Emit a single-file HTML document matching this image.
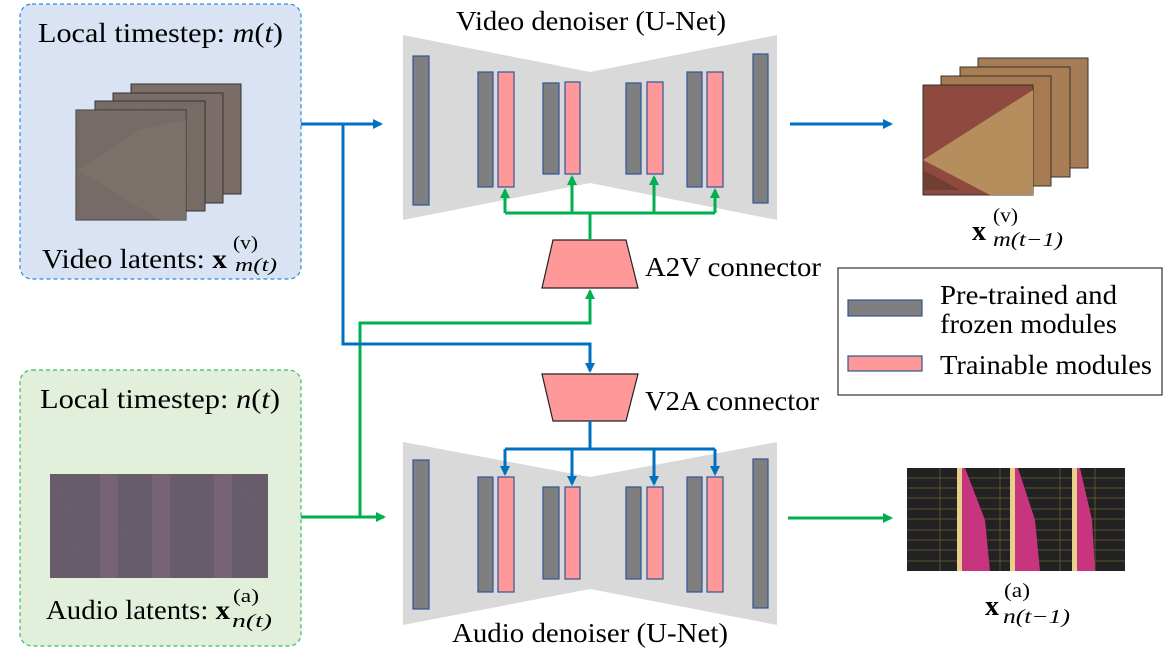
<!DOCTYPE html>
<html><head><meta charset="utf-8"><style>
html,body{margin:0;padding:0;background:#fff;}
svg{display:block;}
text{font-family:"Liberation Serif",serif;fill:#000;}
.m{font-style:italic;}
</style></head><body>
<svg width="1163" height="654" viewBox="0 0 1163 654" xmlns="http://www.w3.org/2000/svg">
<defs>
<filter id="noise" x="0" y="0" width="100%" height="100%">
<feTurbulence type="fractalNoise" baseFrequency="0.9" numOctaves="2" seed="3"/>
<feColorMatrix type="matrix" values="0 0 0 0 0.5  0 0 0 0 0.45  0 0 0 0 0.45  0 0 0 0.35 0"/>
<feComposite in2="SourceGraphic" operator="in"/>
<feBlend in="SourceGraphic" mode="multiply"/>
</filter>
<marker id="ab" markerWidth="10" markerHeight="10" refX="8" refY="5" orient="auto" markerUnits="userSpaceOnUse"><path d="M0,0 L10,5 L0,10 Z" fill="#0070c0"/></marker>
<marker id="ag" markerWidth="10" markerHeight="10" refX="8" refY="5" orient="auto" markerUnits="userSpaceOnUse"><path d="M0,0 L10,5 L0,10 Z" fill="#00b050"/></marker>
</defs>

<!-- Left boxes -->
<rect x="20" y="4" width="281" height="275" rx="12" fill="#dae3f3" stroke="#2e8bd8" stroke-width="1.2" stroke-dasharray="4,3"/>
<rect x="20" y="370" width="281" height="276" rx="12" fill="#e2efda" stroke="#3cba6a" stroke-width="1.2" stroke-dasharray="4,3"/>
<text x="38" y="42" font-size="27" textLength="245" lengthAdjust="spacingAndGlyphs">Local timestep: <tspan class="m">m</tspan>(<tspan class="m">t</tspan>)</text>
<text x="40" y="408" font-size="27" textLength="240" lengthAdjust="spacingAndGlyphs">Local timestep: <tspan class="m">n</tspan>(<tspan class="m">t</tspan>)</text>

<!-- video latent stack -->
<g stroke="#333" stroke-width="1">
<rect x="131" y="84" width="110" height="110" fill="#7b6e68"/>
<rect x="113" y="93" width="110" height="110" fill="#7a6d68"/>
<rect x="95" y="101" width="110" height="110" fill="#786b66"/>
<rect x="76" y="110" width="110" height="110" fill="#7a6e6a"/>
</g>
<polygon points="78,170 140,130 186,120 186,220 160,220" fill="#8a8374" opacity="0.6"/>
<rect x="76" y="110" width="110" height="110" fill="#7a6e6a" filter="url(#noise)" opacity="0.5"/>
<text x="42" y="268" font-size="27" textLength="185" lengthAdjust="spacingAndGlyphs">Video latents: <tspan font-weight="bold">x</tspan></text>
<text x="233" y="249" font-size="19" textLength="25" lengthAdjust="spacingAndGlyphs">(v)</text>
<text x="235" y="271" font-size="19" class="m" textLength="42" lengthAdjust="spacingAndGlyphs">m(t)</text>

<!-- audio latent -->
<rect x="50" y="474" width="218" height="104" fill="#6a5f6c"/>
<rect x="100" y="474" width="18" height="104" fill="#8c6f86" opacity="0.7"/>
<rect x="152" y="474" width="18" height="104" fill="#8c6f86" opacity="0.7"/>
<rect x="214" y="474" width="18" height="104" fill="#8c6f86" opacity="0.7"/>
<rect x="50" y="474" width="218" height="104" fill="#6a5f6c" filter="url(#noise)" opacity="0.4"/>
<text x="46" y="619" font-size="27" textLength="184" lengthAdjust="spacingAndGlyphs">Audio latents: <tspan font-weight="bold">x</tspan></text>
<text x="233" y="602" font-size="19" textLength="26" lengthAdjust="spacingAndGlyphs">(a)</text>
<text x="232" y="627" font-size="19" class="m" textLength="40" lengthAdjust="spacingAndGlyphs">n(t)</text>

<!-- Video U-Net -->
<text x="456" y="30" font-size="27" textLength="270" lengthAdjust="spacingAndGlyphs">Video denoiser (U-Net)</text>
<polygon points="403,35 590,72 777,35 777,220 590,183 403,220" fill="#d9d9d9"/>
<g stroke="#2f5597" stroke-width="1.2">
<rect x="413" y="56" width="16" height="149" fill="#7f7f7f"/>
<rect x="478" y="72" width="15" height="115" fill="#7f7f7f"/>
<rect x="498" y="72" width="16" height="115" fill="#ff9999"/>
<rect x="543" y="83" width="16" height="91" fill="#7f7f7f"/>
<rect x="565" y="82" width="15" height="92" fill="#ff9999"/>
<rect x="626" y="83" width="15" height="91" fill="#7f7f7f"/>
<rect x="647" y="82" width="16" height="92" fill="#ff9999"/>
<rect x="687" y="72" width="15" height="115" fill="#7f7f7f"/>
<rect x="707" y="72" width="16" height="115" fill="#ff9999"/>
<rect x="753" y="54" width="15" height="149" fill="#7f7f7f"/>
</g>
<!-- Audio U-Net -->
<polygon points="403,442 590,477 777,442 777,625 590,589 403,625" fill="#d9d9d9"/>
<g stroke="#2f5597" stroke-width="1.2">
<rect x="413" y="460" width="16" height="149" fill="#7f7f7f"/>
<rect x="478" y="477" width="15" height="115" fill="#7f7f7f"/>
<rect x="498" y="477" width="16" height="115" fill="#ff9999"/>
<rect x="543" y="487" width="16" height="92" fill="#7f7f7f"/>
<rect x="565" y="487" width="15" height="92" fill="#ff9999"/>
<rect x="626" y="487" width="15" height="92" fill="#7f7f7f"/>
<rect x="647" y="487" width="16" height="92" fill="#ff9999"/>
<rect x="687" y="477" width="15" height="115" fill="#7f7f7f"/>
<rect x="707" y="477" width="16" height="115" fill="#ff9999"/>
<rect x="753" y="459" width="15" height="149" fill="#7f7f7f"/>
</g>
<text x="452" y="642" font-size="27" textLength="276" lengthAdjust="spacingAndGlyphs">Audio denoiser (U-Net)</text>

<!-- connectors -->
<polygon points="553,240 626,240 638,288 542,288" fill="#ff9999" stroke="#222" stroke-width="1.2"/>
<text x="645" y="276" font-size="27" textLength="176" lengthAdjust="spacingAndGlyphs">A2V connector</text>
<polygon points="542,374 638,374 626,421 553,421" fill="#ff9999" stroke="#222" stroke-width="1.2"/>
<text x="645" y="410" font-size="27" textLength="174" lengthAdjust="spacingAndGlyphs">V2A connector</text>

<!-- green lines -->
<g stroke="#00b050" stroke-width="3" fill="none">
<path d="M590,240 V213"/>
<path d="M505,213 H715"/>
<path d="M505,213 V190" marker-end="url(#ag)"/>
<path d="M572,213 V177" marker-end="url(#ag)"/>
<path d="M654,213 V177" marker-end="url(#ag)"/>
<path d="M715,213 V190" marker-end="url(#ag)"/>
<path d="M301,517 H384" marker-end="url(#ag)"/>
<path d="M360,517 V323 H590 V291" marker-end="url(#ag)"/>
<path d="M788,518 H891" marker-end="url(#ag)"/>
</g>
<!-- blue lines -->
<g stroke="#0070c0" stroke-width="3" fill="none">
<path d="M301,124 H381" marker-end="url(#ab)"/>
<path d="M343,124 V344 H590 V371" marker-end="url(#ab)"/>
<path d="M590,421 V449"/>
<path d="M505,449 H715"/>
<path d="M505,449 V474" marker-end="url(#ab)"/>
<path d="M572,449 V484" marker-end="url(#ab)"/>
<path d="M654,449 V484" marker-end="url(#ab)"/>
<path d="M715,449 V474" marker-end="url(#ab)"/>
<path d="M790,124 H891" marker-end="url(#ab)"/>
</g>

<!-- video output stack -->
<g stroke="#333" stroke-width="1">
<rect x="978" y="58" width="110" height="110" fill="#a57c55"/>
<rect x="960" y="67" width="110" height="110" fill="#a97e55"/>
<rect x="941" y="76" width="110" height="110" fill="#a67b52"/>
<rect x="923" y="85" width="110" height="110" fill="#8e4a3e"/>
</g>
<polygon points="923,160 1033,90 1033,195 990,195" fill="#b68d5c"/>
<polygon points="923,170 960,190 923,190" fill="#5a3a2a" opacity="0.6"/>
<text x="972" y="240" font-size="28" font-weight="bold">x</text>
<text x="993" y="222" font-size="20" textLength="25" lengthAdjust="spacingAndGlyphs">(v)</text>
<text x="993" y="246" font-size="20" class="m" textLength="70" lengthAdjust="spacingAndGlyphs">m(t−1)</text>

<!-- audio output -->
<rect x="907" y="468" width="218" height="103" fill="#222222"/>
<g stroke="#8a7a3a" stroke-width="0.8" opacity="0.7">
<path d="M907,478 H1125 M907,488 H1125 M907,498 H1125 M907,509 H1125 M907,519 H1125 M907,530 H1125 M907,540 H1125 M907,550 H1125 M907,561 H1125"/>
<path d="M940,468 V571 M1000,468 V571 M1060,468 V571 M1095,468 V571"/>
</g>
<polygon points="957,468 965,468 985,520 990,571 957,571" fill="#c8357f"/>
<polygon points="1010,468 1018,468 1035,520 1040,571 1010,571" fill="#c8357f"/>
<polygon points="1072,468 1080,468 1092,520 1095,571 1072,571" fill="#c8357f"/>
<rect x="957" y="468" width="5" height="103" fill="#e8d08a"/>
<rect x="1010" y="468" width="5" height="103" fill="#e8d08a"/>
<rect x="1072" y="468" width="5" height="103" fill="#e8d08a"/>
<text x="985" y="615" font-size="28" font-weight="bold">x</text>
<text x="1004" y="597" font-size="20" textLength="26" lengthAdjust="spacingAndGlyphs">(a)</text>
<text x="1003" y="623" font-size="20" class="m" textLength="67" lengthAdjust="spacingAndGlyphs">n(t−1)</text>

<!-- legend -->
<rect x="838" y="268" width="324" height="127" fill="#fff" stroke="#333" stroke-width="1.2"/>
<rect x="848" y="300" width="74" height="16" fill="#7f7f7f" stroke="#2f5597" stroke-width="1.2"/>
<rect x="848" y="356" width="74" height="15" fill="#ff9999" stroke="#2f5597" stroke-width="1.2"/>
<text x="940" y="304" font-size="27" textLength="177" lengthAdjust="spacingAndGlyphs">Pre-trained and</text>
<text x="940" y="333" font-size="27" textLength="177" lengthAdjust="spacingAndGlyphs">frozen modules</text>
<text x="940" y="374" font-size="27" textLength="212" lengthAdjust="spacingAndGlyphs">Trainable modules</text>
</svg>
</body></html>
